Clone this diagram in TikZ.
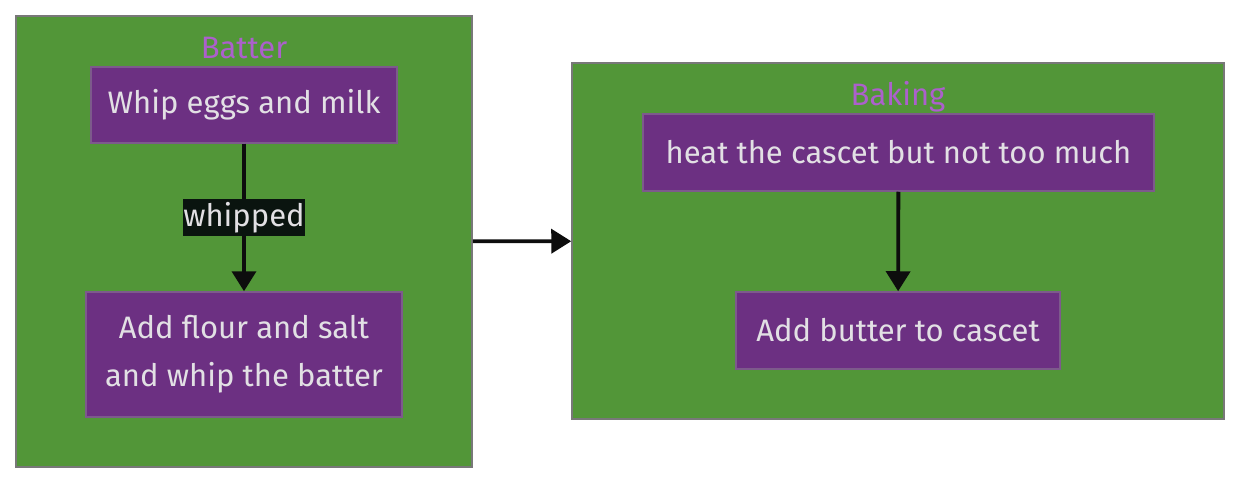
\documentclass[tikz,border=0pt]{standalone}
\usepackage{fontspec}
\setmainfont{Fira Sans}
\usetikzlibrary{arrows.meta, positioning}
\definecolor{clustergreen}{RGB}{82,150,56}
\definecolor{clusterline}{RGB}{120,120,120}
\definecolor{nodepurple}{RGB}{108,48,130}
\definecolor{nodeline}{RGB}{125,90,140}
\definecolor{titlepurple}{RGB}{172,96,204}
\definecolor{textgrey}{RGB}{226,224,228}
\definecolor{labelbg}{RGB}{10,20,15}

\tikzset{
  cluster/.style={draw=clusterline, line width=1.5pt, fill=clustergreen, inner sep=0pt},
  stepbox/.style={draw=nodeline, line width=1.5pt, fill=nodepurple, text=textgrey, align=center, inner sep=0pt, font=\fontsize{31}{48}\selectfont},
  title/.style={text=titlepurple, font=\fontsize{31}{36}\selectfont, inner sep=0pt},
  flow/.style={line width=3.8pt, draw=black!95, -{Triangle[length=20pt, width=24pt]}}
}

\begin{document}
\begin{tikzpicture}[x=1pt, y=-1pt]
\useasboundingbox (0,0) rectangle (1240,484);
% Clusters
\node[cluster, minimum width=456pt, minimum height=451pt] (batter) at (244,241.5) {};
\node[cluster, minimum width=652pt, minimum height=356pt] (baking) at (898,241) {};
\node[title] (battertitle) at (244,48) {Batter};
\node[title] (bakingtitle) at (898,97) {Baking};

% Steps in Batter
\node[stepbox, minimum width=306pt, minimum height=76pt] (whip) at (244,105) {Whip eggs and milk};
\node[stepbox, minimum width=316pt, minimum height=125pt] (flour) at (244,354.5) {Add flour and salt\\and whip the batter};

% Steps in Baking
\node[stepbox, minimum width=511pt, minimum height=77pt] (heat) at (898.5,152.5) {heat the cascet but not too much};
\node[stepbox, minimum width=324pt, minimum height=77pt] (butter) at (898,330.5) {Add butter to cascet};

\draw[flow] (whip) -- node[fill=labelbg, text=textgrey, inner sep=0pt, minimum width=121pt, minimum height=37pt, font=\fontsize{31}{36}\selectfont] (whipped) {whipped} (flour);
\draw[flow] (heat) -- (butter);
\draw[flow] (batter) -- (baking);
\end{tikzpicture}
\end{document}
